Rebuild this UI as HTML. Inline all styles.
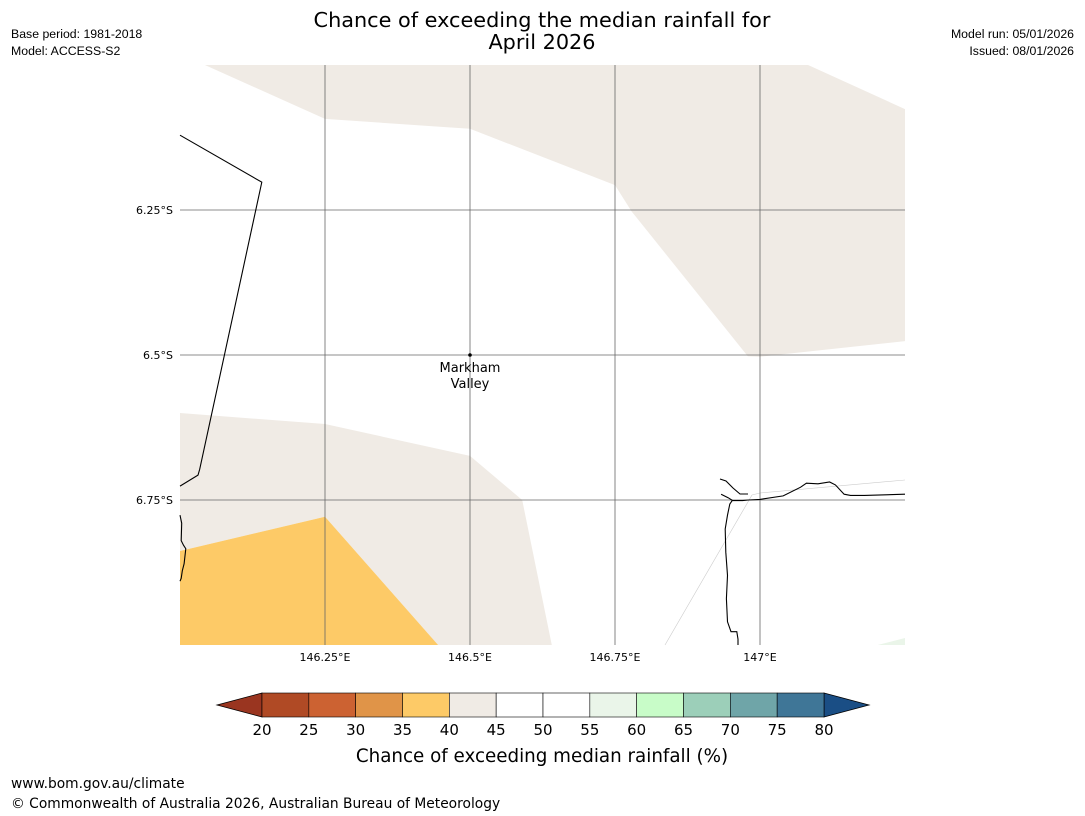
<!DOCTYPE html>
<html><head><meta charset="utf-8">
<style>
body{margin:0;background:#fff;width:1085px;height:816px;overflow:hidden;font-family:"Liberation Sans","DejaVu Sans",sans-serif}
svg{position:absolute;left:0;top:0}
</style></head>
<body>
<svg id="chart" width="1085" height="816" viewBox="0 0 1085 816" xmlns="http://www.w3.org/2000/svg" font-family="DejaVu Sans, Liberation Sans, sans-serif">
<text x="542" y="27" text-anchor="middle" font-size="20.8">Chance of exceeding the median rainfall for</text>
<text x="542" y="49" text-anchor="middle" font-size="20.8">April 2026</text>
<g font-family="Liberation Sans, sans-serif" font-size="12.3">
<text x="11" y="38">Base period: 1981-2018</text>
<text x="11" y="55">Model: ACCESS-S2</text>
<text x="1074" y="38" text-anchor="end">Model run: 05/01/2026</text>
<text x="1074" y="55" text-anchor="end">Issued: 08/01/2026</text>
</g>
<g id="map"></g>
<g id="cbar"></g>
<text x="542" y="762" text-anchor="middle" font-size="18.3">Chance of exceeding median rainfall (%)</text>
<text x="11" y="788" font-size="13.8">www.bom.gov.au/climate</text>
<text x="11" y="808" font-size="13.8">© Commonwealth of Australia 2026, Australian Bureau of Meteorology</text>
</svg>
<script>
// colorbar data
const binEdges=[20,25,30,35,40,45,50,55,60,65,70,75,80];
const binColors=["#b04a25","#cc6232","#e09448","#fdca67","#f0ebe5","#ffffff","#ffffff","#eaf5e9","#c8fcc8","#9ccfb9","#6fa5a8","#3f7697"];
const extendLow="#9a3520", extendHigh="#1a4e85";
// map axes data
const lonTicks=[146.25,146.5,146.75,147];
const lonLabels=["146.25°E","146.5°E","146.75°E","147°E"];
const latTicks=[6.25,6.5,6.75];
const latLabels=["6.25°S","6.5°S","6.75°S"];
// region polygons [lon, lat(S)]
const beigeTop=[[146.043,6],[146.25,6.093],[146.5,6.110],[146.75,6.207],[146.779,6.253],[146.979,6.502],[147,6.503],[147.25,6.476],[147.25,6.076],[147.083,6]];
const beigeBottom=[[146,6.600],[146.25,6.619],[146.5,6.674],[146.59,6.75],[146.641,7],[146.445,7],[146.25,6.779],[146,6.838]];
const orangeRegion=[[146,6.838],[146.25,6.779],[146.445,7],[146,7]];
const greenRegion=[[147.203,7],[147.25,6.988],[147.25,7]];
const border=[[146,6.121],[146.141,6.202],[146.034,6.697],[146.031,6.707],[146,6.726]];
const border2=[[146,6.776],[146.003,6.790],[146.002,6.820],[146.006,6.828],[146.01,6.834],[146.007,6.860],[146.004,6.872],[146.002,6.885],[146,6.89]];
const coast=[[146.933,6.740],[146.945,6.746],[146.953,6.751],[146.97,6.751],[146.98,6.750],[147.0,6.749],[147.04,6.743],[147.07,6.728],[147.08,6.721],[147.1,6.722],[147.12,6.719],[147.13,6.724],[147.145,6.740],[147.156,6.742],[147.18,6.742],[147.25,6.740]];
const coastW=[[146.952,6.751],[146.948,6.757],[146.944,6.776],[146.940,6.800],[146.941,6.840],[146.944,6.880],[146.942,6.920],[146.944,6.960],[146.950,6.977],[146.960,6.977],[146.962,6.990],[146.962,7]];
const X=lon=>180+(lon-146)*580;
const Y=lat=>65+(lat-6)*580;
const NS="http://www.w3.org/2000/svg";
function mk(tag,attrs,parent){const e=document.createElementNS(NS,tag);for(const k in attrs)e.setAttribute(k,attrs[k]);parent.appendChild(e);return e;}
const map=document.getElementById('map');
const pts=a=>a.map(p=>X(p[0]).toFixed(1)+","+Y(p[1]).toFixed(1)).join(" ");
let e;
e=mk('polygon',{points:pts(beigeTop),fill:"#f0ebe5"},map);


e=mk('polygon',{points:pts(beigeBottom),fill:"#f0ebe5"},map);


e=mk('polygon',{points:pts(orangeRegion),fill:"#fdca67"},map);


e=mk('polygon',{points:pts(greenRegion),fill:"#eaf5e9"},map);


e=mk('polyline',{points:"665,645 752,495 760,493 905,480",fill:"none",stroke:"#ccc","stroke-width":"0.6"},map);


lonTicks.forEach((v,i)=>{
 e=mk('line',{x1:X(v),x2:X(v),y1:65,y2:645,stroke:"#666","stroke-width":"0.8"},map);
 
 
 e=mk('text',{x:X(v),y:661,"font-size":"11","text-anchor":"middle"},map);e.textContent=lonLabels[i];
 
 
});
latTicks.forEach((v,i)=>{
 e=mk('line',{x1:180,x2:905,y1:Y(v),y2:Y(v),stroke:"#666","stroke-width":"0.8"},map);
 
 
 e=mk('text',{x:173,y:Y(v)+4,"font-size":"11","text-anchor":"end"},map);e.textContent=latLabels[i];
 
 
});
[border,border2,coast,coastW].forEach(b=>{
 e=mk('polyline',{points:pts(b),fill:"none",stroke:"#000","stroke-width":"1.1"},map);
 
 
});
e=mk('polyline',{points:"720,479 726,481 733,488 740,494 748,494",fill:"none",stroke:"#000","stroke-width":"1.1"},map);


e=mk('circle',{cx:X(146.5),cy:Y(6.5),r:1.8,fill:"#000"},map);


e=mk('text',{x:470,y:372,"font-size":"13","text-anchor":"middle"},map);e.textContent="Markham";


e=mk('text',{x:470,y:388,"font-size":"13","text-anchor":"middle"},map);e.textContent="Valley";


// colorbar
const cb=document.getElementById('cbar');
const CX=v=>262+(v-20)*(824-262)/60, cy0=693, cy1=717;
e=mk('polygon',{points:`262,${cy0} 217,705 262,${cy1}`,fill:extendLow,stroke:"#000","stroke-width":"0.8"},cb);


e=mk('polygon',{points:`824,${cy0} 869,705 824,${cy1}`,fill:extendHigh,stroke:"#000","stroke-width":"0.8"},cb);


binColors.forEach((c,i)=>{
 e=mk('rect',{x:CX(binEdges[i]),y:cy0,width:CX(binEdges[i+1])-CX(binEdges[i]),height:cy1-cy0,fill:c,stroke:"#000","stroke-width":"0.6"},cb);
 
 
});
binEdges.forEach(v=>{
 e=mk('text',{x:CX(v),y:735,"font-size":"15","text-anchor":"middle"},cb);e.textContent=v;
 
 
});
</script>
</body></html>
